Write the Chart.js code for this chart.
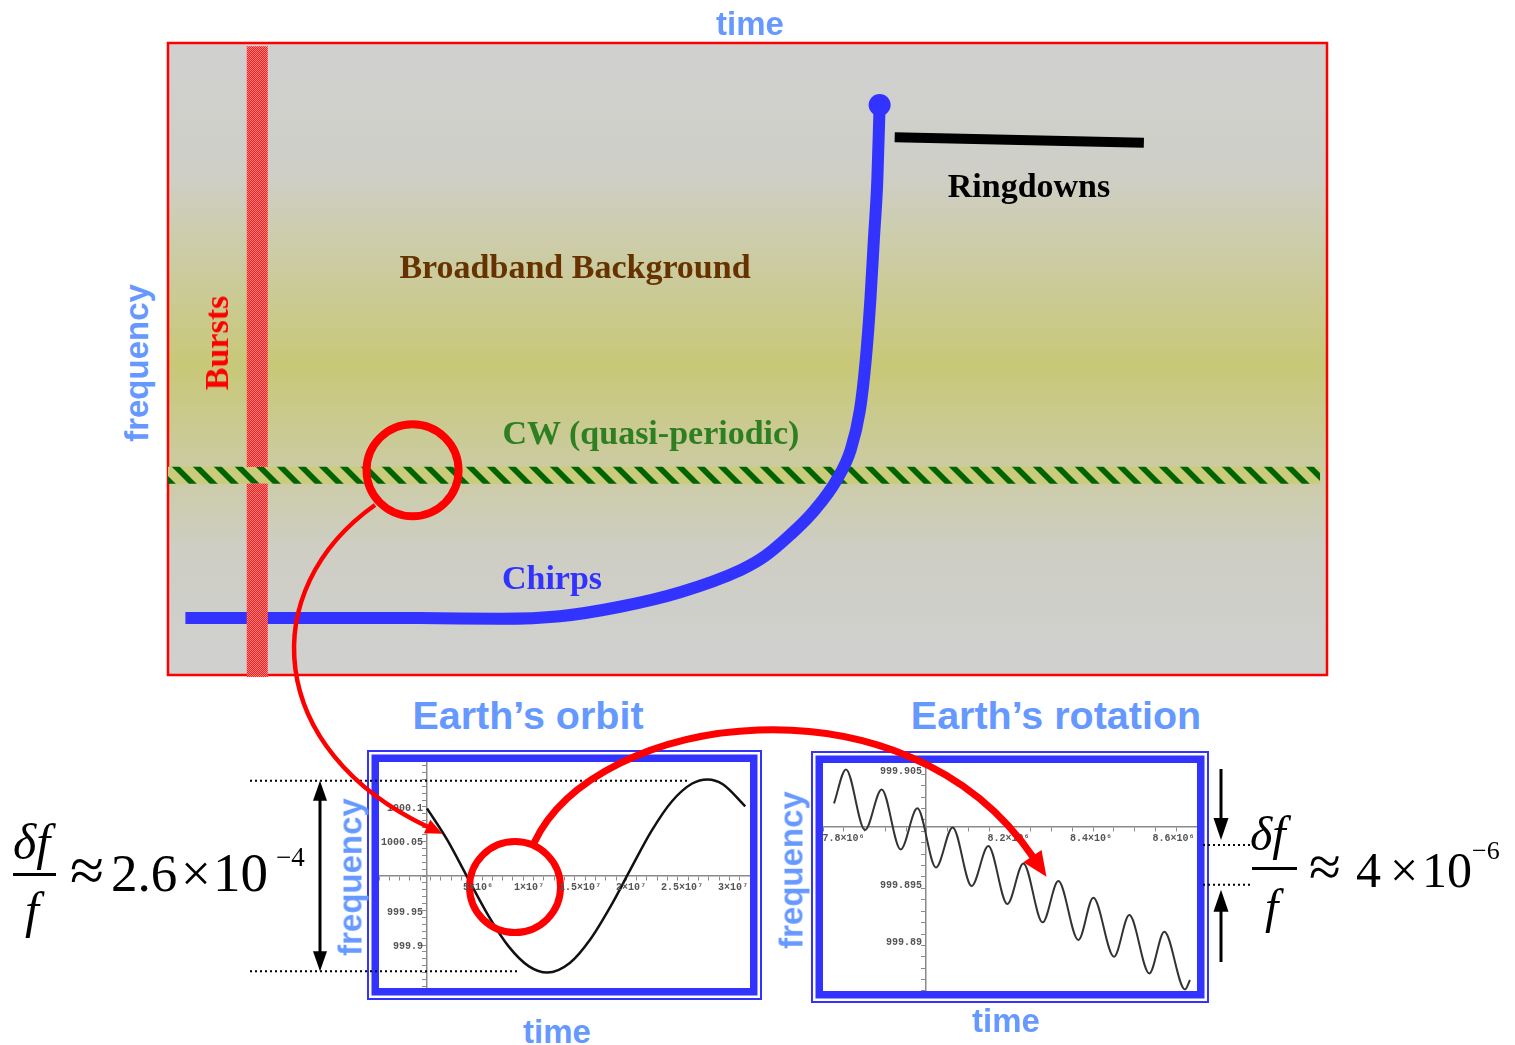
<!DOCTYPE html>
<html>
<head>
<meta charset="utf-8">
<title>Signal types in the time-frequency plane</title>
<script src="https://cdn.jsdelivr.net/npm/chart.js"></script>
<style>
body { margin:0; width:1515px; height:1045px; background:#fff; position:relative; overflow:hidden; }
canvas { position:absolute; }
.lbl { position:absolute; white-space:nowrap; line-height:1; transform:translate(-50%,-50%); }
.rot { transform:translate(-50%,-50%) rotate(-90deg); }
.sans { font-family:"Liberation Sans", Arial, sans-serif; font-weight:bold; color:#6699ff; }
.serif { font-family:"Liberation Serif", "Times New Roman", serif; font-weight:bold; font-size:34px; }
.m { position:absolute; white-space:nowrap; line-height:1; font-family:"Liberation Serif", "Times New Roman", serif; color:#000; }
.i { font-style:italic; }
.bar { position:absolute; background:#000; height:3px; }
</style>
</head>
<body>
<canvas id="main" width="1180" height="652" style="left:158px;top:33px"></canvas>
<canvas id="orbit" width="530" height="260" style="left:240px;top:745px"></canvas>
<canvas id="rotation" width="460" height="265" style="left:800px;top:740px"></canvas>

<div class="lbl sans" style="left:750px;top:22.6px;font-size:33px">time</div>
<div class="lbl sans rot" style="left:135.6px;top:362.5px;font-size:33px">frequency</div>
<div class="lbl serif rot" style="left:216.5px;top:342.5px;color:#ff0000">Bursts</div>
<div class="lbl serif" style="left:575px;top:267px;color:#663300">Broadband Background</div>
<div class="lbl serif" style="left:1029px;top:185.5px;color:#000">Ringdowns</div>
<div class="lbl serif" style="left:651px;top:432.5px;color:#2f7f22">CW (quasi-periodic)</div>
<div class="lbl serif" style="left:552px;top:577.5px;color:#3333ff">Chirps</div>

<div class="lbl sans" style="left:528px;top:715.6px;font-size:39.5px">Earth’s orbit</div>
<div class="lbl sans" style="left:1056px;top:715.6px;font-size:39.5px">Earth’s rotation</div>
<div class="lbl sans" style="left:557px;top:1030.5px;font-size:33px">time</div>
<div class="lbl sans" style="left:1006px;top:1019.6px;font-size:33px">time</div>
<div class="lbl sans rot" style="left:349.6px;top:876.5px;font-size:33px">frequency</div>
<div class="lbl sans rot" style="left:790.6px;top:870px;font-size:33px">frequency</div>

<div class="m i" style="left:13px;top:817px;font-size:50px">δf</div>
<div class="bar" style="left:13px;top:873px;width:43px"></div>
<div class="m i" style="left:25px;top:885px;font-size:50px">f</div>
<div class="m" style="left:70px;top:839.1px;font-size:62px">≈</div>
<div class="m" style="left:111px;top:846.6px;font-size:53px">2.6</div>
<div class="m" style="left:181px;top:846.6px;font-size:53px">×</div>
<div class="m" style="left:213px;top:845px;font-size:55px">10</div>
<div class="m" style="left:276px;top:844.4px;font-size:27px">−4</div>

<div class="m i" style="left:1250px;top:809.8px;font-size:48px">δf</div>
<div class="bar" style="left:1252px;top:867px;width:45px;height:2.5px"></div>
<div class="m i" style="left:1265px;top:882.8px;font-size:48px">f</div>
<div class="m" style="left:1309px;top:838.4px;font-size:58px">≈</div>
<div class="m" style="left:1356px;top:845.1px;font-size:50px">4</div>
<div class="m" style="left:1390px;top:845.1px;font-size:50px">×</div>
<div class="m" style="left:1422px;top:845.1px;font-size:50px">10</div>
<div class="m" style="left:1472px;top:838.2px;font-size:26px">−6</div>

<canvas id="overlay" width="1515" height="1045" style="left:0;top:0;z-index:5;pointer-events:none"></canvas>

<script>
// top panel, time / frequency in arbitrary units (0..100)
const chirpTime = [1.5, 21.7, 28.7, 33.8, 39.0, 44.2, 49.4, 51.5, 53.7, 55.8, 57.7, 58.9, 59.7, 60.2, 60.6, 60.9, 61.2, 61.4];
const chirpFreq = [9.0, 9.0, 8.9, 9.3, 10.8, 13.1, 16.6, 18.8, 22.2, 26.1, 30.9, 35.6, 41.9, 49.8, 59.3, 68.8, 78.3, 90.2];
const ringdownTime = [62.7, 84.2];
const ringdownFreq = [85.1, 84.2];
// the burst track is hidden where the CW band lies over it
const burstTime = [7.7, 7.7, null, 7.7, 7.7];
const burstFreq = [-0.3, 30.3, null, 32.9, 99.5];
const cwTime = [0, 99.4];
const cwFreq = [31.6, 31.6];
const zoomSpot = [21.1, 32.4];

// Earth's orbit inset (seconds, Hz)
const orbitTime = [0, 2e6, 4e6, 6e6, 8e6, 1e7, 1.18e7, 1.4e7, 1.6e7, 1.8e7, 2e7, 2.2e7, 2.4e7, 2.6e7, 2.75e7, 2.9e7, 3.12e7];
const orbitFreq = [1000.098, 1000.052, 999.997, 999.943, 999.898, 999.869, 999.860, 999.874, 999.908, 999.956, 1000.011, 1000.065, 1000.108, 1000.134, 1000.140, 1000.133, 1000.101];
const orbitTicksX = [5e6, 1e7, 1.5e7, 2e7, 2.5e7, 3e7];
const orbitLabelsX = ['5×10⁶', '1×10⁷', '1.5×10⁷', '2×10⁷', '2.5×10⁷', '3×10⁷'];
const orbitTicksY = [1000.1, 1000.05, 999.95, 999.9];
const orbitSpan = [1000.138, 999.862];
const orbitSpanEnds = [2.56e7, 0.91e7];
const orbitSpot = [8.63e6, 999.984];

// Earth's rotation inset
const rotTime = [7.777e6, 7.806e6, 7.8521e6, 7.8925e6, 7.9386e6, 7.979e6, 8.0242e6, 8.0646e6, 8.1107e6, 8.1511e6, 8.1972e6,
  8.236e6, 8.2828e6, 8.3208e6, 8.3693e6, 8.4057e6, 8.4558e6, 8.4929e6, 8.5414e6, 8.5778e6, 8.6279e6, 8.640e6];
const rotFreq = [999.90205, 999.90503, 999.89971, 999.90327, 999.89801, 999.90161, 999.89643, 999.89994, 999.8948, 999.8983, 999.89322,
  999.89678, 999.89161, 999.89523, 999.89006, 999.89377, 999.8886, 999.89225, 999.88713, 999.89079, 999.88573, 999.88655];
const rotTicksX = [7.8e6, 8.2e6, 8.4e6, 8.6e6];
const rotLabelsX = ['7.8×10⁶', '8.2×10⁶', '8.4×10⁶', '8.6×10⁶'];
const rotTicksY = [999.905, 999.895, 999.89];
const rotSpan = [999.8984, 999.8949];

// red connector arrows, page coordinates (bezier: start, c1, c2, head base)
const connectors = [
  { path: [[375, 505], [255, 590], [265, 750], [428, 827]], width: 4.5, head: 16, spread: 7.5 },
  { path: [[534, 843], [595, 712], [905, 668], [1033, 857]], width: 7, head: 24, spread: 11 }
];

const pts = (xs, ys) => xs.map((x, i) => (x === null ? { x: null, y: null } : { x, y: ys[i] }));

const mainCtx = document.getElementById('main').getContext('2d');

function checker() {
  const c = document.createElement('canvas');
  c.width = 2; c.height = 2;
  const g = c.getContext('2d');
  g.fillStyle = '#ff8585'; g.fillRect(0, 0, 2, 2);
  g.fillStyle = '#ff1a1a'; g.fillRect(0, 0, 1, 1); g.fillRect(1, 1, 1, 1);
  return mainCtx.createPattern(c, 'repeat');
}

function stripes() {
  const s = 21, w = 8;
  const c = document.createElement('canvas');
  c.width = s; c.height = s;
  const g = c.getContext('2d');
  g.fillStyle = '#cbcb7c'; g.fillRect(0, 0, s, s);
  g.fillStyle = '#006400';
  for (let k = -1; k <= 1; k++) {
    g.beginPath();
    g.moveTo(k * s, 0); g.lineTo(k * s + w, 0);
    g.lineTo(k * s + w + s, s); g.lineTo(k * s + s, s);
    g.closePath(); g.fill();
  }
  return mainCtx.createPattern(c, 'repeat');
}

const panel = {
  id: 'panel',
  beforeDatasetsDraw(chart) {
    const { ctx, chartArea: a } = chart;
    const g = ctx.createLinearGradient(0, a.top, 0, a.bottom);
    g.addColorStop(0, '#d0d0d0');
    g.addColorStop(0.2, '#cfcfc8');
    g.addColorStop(0.51, '#c8c878');
    g.addColorStop(0.8, '#cecec4');
    g.addColorStop(1, '#d0d0d0');
    ctx.save();
    ctx.fillStyle = g;
    ctx.fillRect(a.left, a.top, a.width, a.height);
    ctx.strokeStyle = '#ff0000';
    ctx.lineWidth = 2.5;
    ctx.strokeRect(a.left, a.top, a.width, a.height);
    ctx.restore();
  }
};

const hidden = (min, max) => ({ type: 'linear', min, max, display: false });

new Chart(mainCtx, {
  type: 'scatter',
  data: {
    datasets: [
      { label: 'zoom', data: [{ x: zoomSpot[0], y: zoomSpot[1] }], pointRadius: 46, pointBorderWidth: 8,
        pointBorderColor: '#ff0000', pointBackgroundColor: 'rgba(0,0,0,0)', clip: false, order: 0 },
      { label: 'Bursts', data: pts(burstTime, burstFreq), showLine: true, spanGaps: false, borderColor: checker(), borderWidth: 21,
        borderCapStyle: 'butt', pointRadius: 0, clip: false, order: 1 },
      { label: 'Chirps', data: pts(chirpTime, chirpFreq), showLine: true, borderColor: '#3333ff', borderWidth: 12,
        borderCapStyle: 'butt', cubicInterpolationMode: 'monotone',
        pointRadius: c => c.dataIndex === chirpTime.length - 1 ? 11 : 0,
        pointBackgroundColor: '#3333ff', pointBorderWidth: 0, clip: false, order: 2 },
      { label: 'Ringdowns', data: pts(ringdownTime, ringdownFreq), showLine: true, borderColor: '#000', borderWidth: 10,
        borderCapStyle: 'butt', pointRadius: 0, clip: false, order: 3 },
      { label: 'CW', data: pts(cwTime, cwFreq), showLine: true, borderColor: stripes(), borderWidth: 17,
        borderCapStyle: 'butt', pointRadius: 0, clip: false, order: 4 }
    ]
  },
  options: {
    responsive: false, animation: false, events: [], devicePixelRatio: 1,
    layout: { autoPadding: false, padding: { left: 10, top: 10, right: 11, bottom: 10 } },
    scales: { x: hidden(0, 100), y: hidden(0, 100) },
    plugins: { legend: { display: false }, tooltip: { enabled: false } }
  },
  plugins: [panel]
});

const tickFont = 'bold 10px "Liberation Mono", "DejaVu Sans Mono", monospace';

function axis(min, max, position, stepSize) {
  return {
    type: 'linear', min, max, position,
    grid: { drawOnChartArea: false, drawTicks: true, tickLength: 4, tickWidth: 1, tickColor: '#8a8a8a' },
    border: { display: true, color: '#8a8a8a', width: 1.5 },
    ticks: { stepSize, autoSkip: false, includeBounds: false, maxRotation: 0, callback: () => '' }
  };
}

// tick labels of an inset, placed with the chart's own scales
function tickLabels(xMarks, xNames, xAt, yMarks, yNames, yAt) {
  return {
    id: 'tickLabels',
    afterDraw(chart) {
      const { ctx, scales: { x, y } } = chart;
      ctx.save();
      ctx.font = tickFont;
      ctx.fillStyle = '#555';
      ctx.textBaseline = 'alphabetic';
      ctx.textAlign = 'center';
      const ay = y.getPixelForValue(xAt);
      xMarks.forEach((v, i) => ctx.fillText(xNames[i], x.getPixelForValue(v), ay + 14));
      ctx.textAlign = 'right';
      const ax = x.getPixelForValue(yAt);
      yMarks.forEach((v, i) => ctx.fillText(yNames[i], ax - 4, y.getPixelForValue(v) + 4));
      ctx.restore();
    }
  };
}

const frame = {
  id: 'frame',
  afterDatasetsDraw(chart) {
    const { ctx, chartArea: a } = chart;
    ctx.save();
    ctx.strokeStyle = '#3333ff';
    ctx.lineWidth = 7.5;
    ctx.strokeRect(a.left - 3.75, a.top - 3.75, a.width + 7.5, a.height + 7.5);
    ctx.lineWidth = 2;
    ctx.strokeRect(a.left - 11, a.top - 11, a.width + 22, a.height + 22);
    ctx.restore();
  }
};

function arrowHead(ctx, bx, by, dx, dy, len, hw) {
  ctx.beginPath();
  ctx.moveTo(bx + dx * len, by + dy * len);
  ctx.lineTo(bx - dy * hw, by + dx * hw);
  ctx.lineTo(bx + dy * hw, by - dx * hw);
  ctx.closePath();
  ctx.fill();
}

function dotted(ctx, x1, x2, y) {
  ctx.save();
  ctx.strokeStyle = '#000';
  ctx.lineWidth = 2;
  ctx.setLineDash([2, 3]);
  ctx.beginPath();
  ctx.moveTo(x1, y);
  ctx.lineTo(x2, y);
  ctx.stroke();
  ctx.restore();
}

function shaft(ctx, x, y1, y2) {
  ctx.beginPath();
  ctx.moveTo(x, y1);
  ctx.lineTo(x, y2);
  ctx.stroke();
}

const orbitMarks = {
  id: 'orbitMarks',
  afterDraw(chart) {
    const { ctx, chartArea: a, scales: { x, y } } = chart;
    const top = y.getPixelForValue(orbitSpan[0]);
    const bot = y.getPixelForValue(orbitSpan[1]);
    dotted(ctx, a.left - 129, x.getPixelForValue(orbitSpanEnds[0]), top);
    dotted(ctx, a.left - 129, x.getPixelForValue(orbitSpanEnds[1]), bot);
    const ax = a.left - 59, len = 19;
    ctx.save();
    ctx.strokeStyle = '#000'; ctx.fillStyle = '#000'; ctx.lineWidth = 3;
    shaft(ctx, ax, top + len, bot - len);
    arrowHead(ctx, ax, top + len + 1, 0, -1, len + 1, 7);
    arrowHead(ctx, ax, bot - len - 1, 0, 1, len + 1, 7);
    ctx.restore();
  }
};

const rotMarks = {
  id: 'rotMarks',
  afterDraw(chart) {
    const { ctx, chartArea: a, scales: { y } } = chart;
    const top = y.getPixelForValue(rotSpan[0]);
    const bot = y.getPixelForValue(rotSpan[1]);
    dotted(ctx, a.right + 6, a.right + 55, top);
    dotted(ctx, a.right + 6, a.right + 55, bot);
    const ax = a.right + 24, len = 22;
    ctx.save();
    ctx.strokeStyle = '#000'; ctx.fillStyle = '#000'; ctx.lineWidth = 3;
    shaft(ctx, ax, a.top + 6, top - 5 - len + 1);
    arrowHead(ctx, ax, top - 5 - len, 0, 1, len, 7.5);
    shaft(ctx, ax, bot + 5 + len - 1, a.bottom - 29);
    arrowHead(ctx, ax, bot + 5 + len, 0, -1, len, 7.5);
    ctx.restore();
  }
};

const spot = (p, r) => ({
  data: [{ x: p[0], y: p[1] }], pointRadius: r, pointBorderWidth: 7,
  pointBorderColor: '#ff0000', pointBackgroundColor: 'rgba(0,0,0,0)', order: 0
});

new Chart(document.getElementById('orbit'), {
  type: 'scatter',
  data: {
    datasets: [
      spot(orbitSpot, 45.5),
      { data: pts(orbitTime, orbitFreq), showLine: true, borderColor: '#111', borderWidth: 2.5, pointRadius: 0,
        cubicInterpolationMode: 'monotone', order: 1 }
    ]
  },
  options: {
    responsive: false, animation: false, events: [], devicePixelRatio: 1,
    layout: { autoPadding: false, padding: { left: 139, top: 17, right: 20, bottom: 17 } },
    scales: {
      x: axis(-4.706e6, 3.1667e7, { y: 1000 }, 1e6),
      y: axis(999.8377, 1000.1652, { x: 0 }, 0.01)
    },
    plugins: { legend: { display: false }, tooltip: { enabled: false } }
  },
  plugins: [tickLabels(orbitTicksX, orbitLabelsX, 1000, orbitTicksY, orbitTicksY.map(String), 0), frame, orbitMarks]
});

new Chart(document.getElementById('rotation'), {
  type: 'scatter',
  data: {
    datasets: [
      { data: pts(rotTime, rotFreq), showLine: true, borderColor: '#333', borderWidth: 2, pointRadius: 0,
        cubicInterpolationMode: 'monotone' }
    ]
  },
  options: {
    responsive: false, animation: false, events: [], devicePixelRatio: 1,
    layout: { autoPadding: false, padding: { left: 23, top: 23, right: 63, bottom: 14 } },
    scales: {
      x: axis(7.7503e6, 8.657e6, { y: 999.9 }, 5e4),
      y: axis(999.88559, 999.90559, { x: 8e6 }, 0.001)
    },
    plugins: { legend: { display: false }, tooltip: { enabled: false } }
  },
  plugins: [tickLabels(rotTicksX, rotLabelsX, 999.9, rotTicksY, rotTicksY.map(String), 8e6), frame, rotMarks]
});

const arrows = {
  id: 'arrows',
  afterDraw(chart) {
    const { ctx, scales: { x, y } } = chart;
    ctx.save();
    ctx.strokeStyle = '#ff0000';
    ctx.fillStyle = '#ff0000';
    connectors.forEach(c => {
      const p = c.path.map(([px, py]) => [x.getPixelForValue(px), y.getPixelForValue(py)]);
      ctx.lineWidth = c.width;
      ctx.beginPath();
      ctx.moveTo(p[0][0], p[0][1]);
      ctx.bezierCurveTo(p[1][0], p[1][1], p[2][0], p[2][1], p[3][0], p[3][1]);
      ctx.stroke();
      let dx = p[3][0] - p[2][0], dy = p[3][1] - p[2][1];
      const n = Math.hypot(dx, dy);
      dx /= n; dy /= n;
      arrowHead(ctx, p[3][0] - dx, p[3][1] - dy, dx, dy, c.head + 1, c.spread);
    });
    ctx.restore();
  }
};

new Chart(document.getElementById('overlay'), {
  type: 'scatter',
  data: { datasets: [] },
  options: {
    responsive: false, animation: false, events: [], devicePixelRatio: 1,
    layout: { autoPadding: false, padding: 0 },
    scales: { x: hidden(0, 1515), y: Object.assign(hidden(0, 1045), { reverse: true }) },
    plugins: { legend: { display: false }, tooltip: { enabled: false } }
  },
  plugins: [arrows]
});
</script>
</body>
</html>
